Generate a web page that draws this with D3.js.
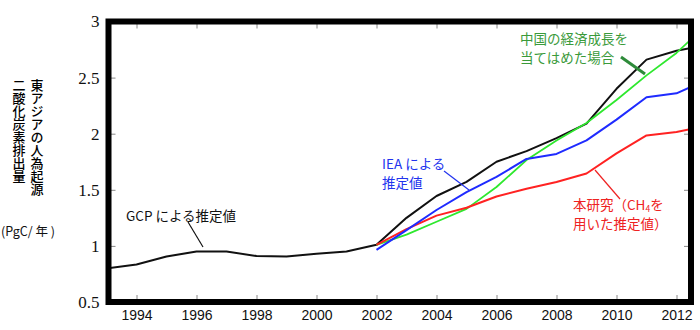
<!DOCTYPE html>
<html>
<head>
<meta charset="utf-8">
<script src="https://cdn.jsdelivr.net/npm/d3@7"></script>
<style>
  body { margin: 0; background: #fff; }
  text { font-family: "Noto Sans CJK JP", "Noto Sans", sans-serif; }
</style>
</head>
<body>
<div class="graph"></div>
<script>
/*--------------- DATA -------------*/

// GCP estimate, 1993-2013 (last point runs off the right edge)
const gcpYears = d3.range(1993, 2014);
const gcpValues = [0.80, 0.835, 0.905, 0.95, 0.95, 0.91, 0.905, 0.93, 0.95, 1.01,
                   1.25, 1.445, 1.57, 1.75, 1.845, 1.96, 2.09, 2.40, 2.66, 2.74, 2.79];

// estimates from 2002 on
const modelYears = d3.range(2002, 2014);
const ieaValues   = [0.965, 1.14, 1.32, 1.48, 1.615, 1.775, 1.82, 1.94, 2.125, 2.325, 2.36, 2.48];
const ch4Values   = [1.01, 1.15, 1.27, 1.34, 1.44, 1.51, 1.57, 1.645, 1.825, 1.985, 2.015, 2.07];
const chinaValues = [1.01, 1.10, 1.215, 1.33, 1.525, 1.765, 1.94, 2.095, 2.30, 2.52, 2.72, 2.97];

const xTicks = d3.range(1994, 2013, 2);
const yTicks = [0.5, 1, 1.5, 2, 2.5, 3];

/*--------------- D3 STUFF -------------*/

const SIZE = {X: 700, Y: 330};
const FRAME = {LEFT: 108.5, RIGHT: 691, TOP: 21.5, BOTTOM: 302};

const svg = d3.select(".graph").append("svg")
    .attr("width", SIZE.X)
    .attr("height", SIZE.Y);

// 30px per year, 1994 sits at x=136.5
const x = d3.scaleLinear()
    .domain([1993, 2012.5])
    .range([106.5, 691.5]);

const y = d3.scaleLinear()
    .domain([0.5, 3])
    .range([FRAME.BOTTOM, FRAME.TOP]);

// keep lines inside the frame
svg.append("defs").append("clipPath")
    .attr("id", "clip")
    .append("rect")
    .attr("x", FRAME.LEFT)
    .attr("y", FRAME.TOP)
    .attr("width", FRAME.RIGHT - FRAME.LEFT)
    .attr("height", FRAME.BOTTOM - FRAME.TOP);

//axis groups: small inward ticks on all four sides
const bottomAxis = svg.append("g")
    .attr("transform", `translate(0, ${FRAME.BOTTOM})`)
    .call(d3.axisBottom(x).tickValues(xTicks).tickFormat(d3.format("d"))
        .tickSize(-7).tickPadding(8));

svg.append("g")
    .attr("transform", `translate(0, ${FRAME.TOP})`)
    .call(d3.axisTop(x).tickValues(xTicks).tickFormat("").tickSize(-7));

const leftAxis = svg.append("g")
    .attr("transform", `translate(${FRAME.LEFT}, 0)`)
    .call(d3.axisLeft(y).tickValues(yTicks).tickFormat(d3.format("~g"))
        .tickSize(-7).tickPadding(9));

svg.append("g")
    .attr("transform", `translate(${FRAME.RIGHT}, 0)`)
    .call(d3.axisRight(y).tickValues(yTicks).tickFormat("").tickSize(-7));

svg.selectAll(".domain").remove();
svg.selectAll(".tick line").attr("stroke", "#888").attr("stroke-width", 1);

bottomAxis.selectAll("text")
    .attr("fill", "#111")
    .style("font-family", "'Liberation Sans', sans-serif")
    .style("font-size", "14px");

leftAxis.selectAll("text")
    .attr("fill", "#111")
    .style("font-family", "'Liberation Serif', serif")
    .style("font-size", "17px");

//lines
const line = d3.line()
    .x(d => x(d[0]))
    .y(d => y(d[1]));

const series = [
    {years: gcpYears,   values: gcpValues,   color: "#111111", width: 2},
    {years: modelYears, values: chinaValues, color: "#2ee82e", width: 1.8},
    {years: modelYears, values: ch4Values,   color: "#ff2222", width: 2},
    {years: modelYears, values: ieaValues,   color: "#1f2bff", width: 2}
];

const lines = svg.append("g").attr("clip-path", "url(#clip)");
lines.selectAll("path")
    .data(series)
    .enter()
        .append("path")
        .attr("d", s => line(d3.zip(s.years, s.values)))
        .attr("fill", "none")
        .attr("stroke", s => s.color)
        .attr("stroke-width", s => s.width)
        .attr("stroke-linejoin", "round");

//thick frame on top
svg.append("rect")
    .attr("x", FRAME.LEFT)
    .attr("y", FRAME.TOP)
    .attr("width", FRAME.RIGHT - FRAME.LEFT)
    .attr("height", FRAME.BOTTOM - FRAME.TOP)
    .attr("fill", "none")
    .attr("stroke", "#000")
    .attr("stroke-width", 6);

//y title, written vertically in two columns
const titleCols = [
    {text: "東アジアの人為起源", x: 37},
    {text: "二酸化炭素排出量", x: 19}
];
svg.selectAll(".ytitle")
    .data(titleCols)
    .enter()
        .append("text")
        .attr("class", "ytitle")
        .attr("x", d => d.x)
        .attr("y", 79)
        .style("writing-mode", "vertical-rl")
        .style("text-orientation", "upright")
        .style("font-size", "13px")
        .style("font-weight", 500)
        .attr("fill", "#000")
        .text(d => d.text);

svg.append("text")
    .attr("x", 1)
    .attr("y", 236)
    .style("font-size", "12.5px")
    .attr("fill", "#111")
    .text("(PgC/ 年 )");

//annotations with pointer lines
function label(lines, px, py, color, size) {
    const t = svg.append("text")
        .attr("x", px)
        .attr("y", py)
        .attr("fill", color)
        .style("font-size", size + "px");
    lines.forEach((l, i) => {
        t.append("tspan").attr("x", px).attr("dy", i ? 19 : 0).text(l);
    });
    return t;
}

label(["GCP による推定値"], 126, 221, "#111", 13.5);
svg.append("line")
    .attr("x1", 188).attr("y1", 222).attr("x2", 203).attr("y2", 247)
    .attr("stroke", "#111").attr("stroke-width", 1.2);

label(["IEA による", "推定値"], 382, 169, "#2233ee", 13.5);
svg.append("line")
    .attr("x1", 444).attr("y1", 171).attr("x2", 469).attr("y2", 190)
    .attr("stroke", "#2233ee").attr("stroke-width", 1.2);

label(["中国の経済成長を", "当てはめた場合"], 520, 44, "#3a9a3a", 13.5);
svg.append("line")
    .attr("x1", 621).attr("y1", 57).attr("x2", 645).attr("y2", 74)
    .attr("stroke", "#2e8b3a").attr("stroke-width", 3);

// red label has a CH4 subscript, second line as its own text
const red = svg.append("text")
    .attr("x", 573)
    .attr("y", 210)
    .attr("fill", "#ee2222")
    .style("font-size", "13.5px");
red.append("tspan").text("本研究（CH");
red.append("tspan").attr("dy", 2).style("font-size", "8.5px").text("4");
red.append("tspan").attr("dy", -2).text("を");
label(["用いた推定値）"], 573, 229, "#ee2222", 13.5);
svg.append("line")
    .attr("x1", 595).attr("y1", 170).attr("x2", 620).attr("y2", 199)
    .attr("stroke", "#ee2222").attr("stroke-width", 1.2);
</script>
</body>
</html>
